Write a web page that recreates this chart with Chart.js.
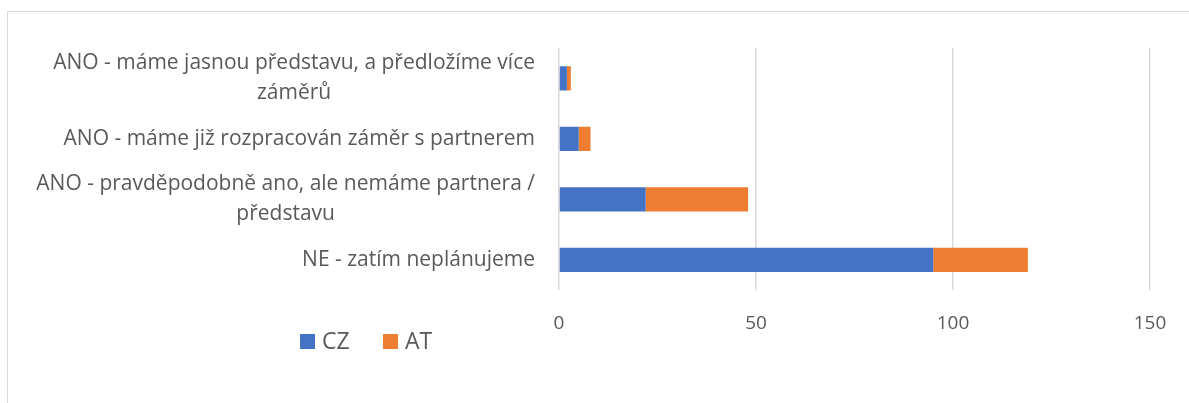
<!DOCTYPE html>
<html lang="cs">
<head>
<meta charset="UTF-8">
<title>Záměry CZ / AT</title>
<script src="https://cdn.jsdelivr.net/npm/chart.js"></script>
<style>
  html, body { margin: 0; padding: 0; background: #fff; overflow: hidden; }
  #frame { position: absolute; left: 7px; top: 11px; width: 1400px; height: 600px; border: 1px solid #d9d9d9; }
  #wrap { position: absolute; left: 0; top: 0; width: 1189px; height: 403px; }
</style>
</head>
<body>
<div id="frame"></div>
<div id="wrap"><canvas id="myChart"></canvas></div>
<script>
    // categories, top to bottom
    const categories = [
        ['ANO - máme jasnou představu, a předložíme více', 'záměrů'],
        ['ANO - máme již rozpracován záměr s partnerem'],
        ['ANO - pravděpodobně ano, ale nemáme partnera /', 'představu'],
        ['NE - zatím neplánujeme']
    ];
    const czValues = [2, 5, 22, 95];
    const atValues = [1, 3, 26, 24];
    const xTicks = [0, 50, 100, 150];

    const textColor = '#595959';
    const fontFamily = '"Open Sans", sans-serif';

    // category labels: block right-aligned, lines centered (like Excel)
    const categoryLabels = {
        id: 'categoryLabels',
        afterDraw(chart) {
            const ctx = chart.ctx;
            const y = chart.scales.y;
            const right = chart.chartArea.left - 24;
            const lineH = 30;
            ctx.save();
            ctx.font = '21px ' + fontFamily;
            ctx.fillStyle = textColor;
            ctx.textAlign = 'center';
            ctx.textBaseline = 'middle';
            chart.data.labels.forEach((lines, i) => {
                const w = Math.max(...lines.map(l => ctx.measureText(l).width));
                const cx = right - w / 2;
                const cy = y.getPixelForValue(i);
                lines.forEach((l, j) => {
                    ctx.fillText(l, cx, cy + (j - (lines.length - 1) / 2) * lineH);
                });
            });
            ctx.restore();
        }
    };

    // legend in the lower left
    const legendLeft = {
        id: 'legendLeft',
        afterDraw(chart) {
            const ctx = chart.ctx;
            let x = 300;
            const cy = 341.5;
            ctx.save();
            ctx.font = '23px ' + fontFamily;
            ctx.textBaseline = 'middle';
            chart.data.datasets.forEach(ds => {
                ctx.fillStyle = ds.backgroundColor;
                ctx.fillRect(x, cy - 7.5, 15, 15);
                ctx.fillStyle = textColor;
                ctx.fillText(ds.label, x + 22, cy + 1);
                x += 83;
            });
            ctx.restore();
        }
    };

    const ctx = document.getElementById('myChart').getContext('2d');
    const chart = new Chart(ctx, {
        type: 'bar',
        data: {
            labels: categories,
            datasets: [
                { label: 'CZ', data: czValues, backgroundColor: '#4472C4' },
                { label: 'AT', data: atValues, backgroundColor: '#ED7D31' }
            ]
        },
        options: {
            indexAxis: 'y',
            responsive: true,
            maintainAspectRatio: false,
            animation: false,
            layout: { padding: { left: 559, right: 39, top: 48, bottom: 46 } },
            datasets: { bar: { categoryPercentage: 0.4, barPercentage: 1 } },
            scales: {
                x: {
                    stacked: true,
                    min: 0,
                    max: 150,
                    afterBuildTicks: scale => { scale.ticks = xTicks.map(v => ({ value: v })); },
                    grid: { color: '#d9d9d9', lineWidth: 1.5, drawTicks: false },
                    border: { display: false },
                    ticks: { color: textColor, font: { family: fontFamily, size: 19 }, padding: 22 }
                },
                y: {
                    stacked: true,
                    display: false
                }
            },
            plugins: {
                legend: { display: false },
                tooltip: { enabled: false }
            }
        },
        plugins: [categoryLabels, legendLeft]
    });
</script>
</body>
</html>
